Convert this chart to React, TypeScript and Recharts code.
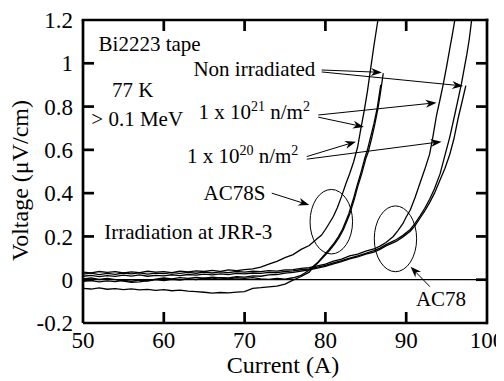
import React from 'react';
import { LineChart, Line, XAxis, YAxis, ReferenceLine, ReferenceArea, ReferenceDot, Label } from 'recharts';

const FONT = "'Liberation Serif', 'Times New Roman', Times, serif";

// Axis ticks
const xTicks = [50, 60, 70, 80, 90, 100];
const xInnerTicks = [60, 70, 80, 90];
const yTicks = [-0.2, 0, 0.2, 0.4, 0.6, 0.8, 1, 1.2];
const yInnerTicks = [0, 0.2, 0.4, 0.6, 0.8, 1];
const X_DOMAIN: [number, number] = [50, 100];
const Y_DOMAIN: [number, number] = [-0.2, 1.2];
// two interior reference points used to map the frame through the chart scales
const FRAME_REF_X: [number, number] = [60, 90];
const FRAME_REF_Y: [number, number] = [0.2, 1];

// AC78S tape curves [current (A), voltage (uV/cm)]
const ac78s21: [number, number][] = [
  [50, 0.035], [51, 0.032], [52, 0.038], [53, 0.034], [54, 0.037], [55, 0.031], [56, 0.036], [57, 0.033],
  [58, 0.039], [59, 0.035], [60, 0.037], [61, 0.033], [62, 0.04], [63, 0.036], [64, 0.041], [65, 0.038],
  [66, 0.043], [67, 0.039], [68, 0.045], [69, 0.042], [70, 0.047], [71, 0.05], [72, 0.058], [73, 0.072],
  [74, 0.085], [75, 0.102], [76, 0.116], [77, 0.14], [78, 0.158], [79, 0.19], [79.5, 0.205], [80, 0.232],
  [80.5, 0.262], [81, 0.293], [81.5, 0.335], [82, 0.385], [82.5, 0.44], [83, 0.49], [83.5, 0.545],
  [84, 0.615], [84.4, 0.7], [84.8, 0.78], [85.2, 0.87], [85.6, 0.975], [86, 1.08], [86.5, 1.2],
];
const ac78s20: [number, number][] = [
  [50, 0.004], [51, 0.008], [52, 0.001], [53, 0.006], [54, 0.0], [55, -0.006], [56, -0.012], [57, -0.01],
  [58, -0.004], [59, 0.003], [60, 0.008], [61, 0.004], [62, 0.01], [63, 0.006], [64, 0.011], [65, 0.007],
  [66, 0.012], [67, 0.008], [68, 0.004], [69, 0.009], [70, 0.006], [71, 0.01], [72, 0.004], [73, 0.002],
  [74, 0.006], [75, 0.003], [76, 0.009], [77, 0.02], [77.5, 0.032], [78, 0.045], [78.5, 0.062], [79, 0.078],
  [79.7, 0.108], [80.4, 0.138], [81.1, 0.17], [81.6, 0.198], [82.1, 0.232], [82.5, 0.268], [82.9, 0.305],
  [83.5, 0.378], [83.9, 0.432], [84.4, 0.495], [84.9, 0.565], [85.2, 0.6], [85.6, 0.66], [86, 0.72],
  [86.4, 0.79], [86.85, 0.9],
];
const ac78sNon: [number, number][] = [
  [50, -0.04], [51, -0.043], [52, -0.038], [53, -0.044], [54, -0.041], [55, -0.046], [56, -0.042], [57, -0.047],
  [58, -0.045], [59, -0.049], [60, -0.046], [61, -0.051], [62, -0.048], [63, -0.053], [64, -0.055], [65, -0.058],
  [66, -0.062], [67, -0.059], [68, -0.061], [69, -0.057], [70, -0.055], [71, -0.04], [72, -0.037], [73, -0.033],
  [74, -0.03], [75, -0.02], [76, -0.002], [77, 0.015], [78, 0.035], [78.5, 0.058], [79, 0.075], [79.75, 0.105],
  [80.5, 0.135], [81.2, 0.168], [81.7, 0.195], [82.2, 0.23], [82.6, 0.265], [83, 0.302], [83.6, 0.375],
  [84, 0.43], [84.5, 0.49], [85, 0.56], [85.3, 0.59], [85.7, 0.65], [86.1, 0.715], [86.5, 0.79], [86.8, 0.86],
  [87.16, 0.954],
];

// AC78 tape curves
const ac7821: [number, number][] = [
  [50, 0.026], [51, 0.03], [52, 0.024], [53, 0.029], [54, 0.025], [55, 0.031], [56, 0.027], [57, 0.032],
  [58, 0.026], [59, 0.03], [60, 0.028], [61, 0.033], [62, 0.029], [63, 0.034], [64, 0.03], [65, 0.035],
  [66, 0.031], [67, 0.036], [68, 0.033], [69, 0.038], [70, 0.035], [71, 0.039], [72, 0.037], [73, 0.042],
  [74, 0.04], [75, 0.045], [76, 0.047], [77, 0.052], [78, 0.056], [79, 0.064], [80, 0.072], [81, 0.086],
  [82, 0.095], [83, 0.11], [84, 0.118], [85, 0.132], [86, 0.142], [86.75, 0.155], [87.5, 0.172], [88.4, 0.2],
  [89, 0.228], [89.6, 0.26], [90, 0.29], [90.5, 0.322], [91.1, 0.38], [91.7, 0.446], [92.3, 0.51],
  [92.9, 0.58], [93.3, 0.66], [93.76, 0.761], [94.2, 0.835], [94.57, 0.9], [95, 0.985], [95.4, 1.069],
  [95.7, 1.13], [96.02, 1.2],
];
const ac7820: [number, number][] = [
  [50, 0.016], [51, 0.02], [52, 0.014], [53, 0.019], [54, 0.015], [55, 0.021], [56, 0.017], [57, 0.022],
  [58, 0.016], [59, 0.02], [60, 0.018], [61, 0.023], [62, 0.019], [63, 0.024], [64, 0.021], [65, 0.026],
  [66, 0.022], [67, 0.027], [68, 0.024], [69, 0.029], [70, 0.027], [71, 0.031], [72, 0.029], [73, 0.034],
  [74, 0.033], [75, 0.038], [76, 0.041], [77, 0.046], [78, 0.05], [79, 0.058], [80, 0.066], [81, 0.078],
  [82, 0.088], [83, 0.1], [84, 0.11], [85, 0.122], [86, 0.134], [86.75, 0.146], [87.5, 0.162], [88.2, 0.175],
  [88.8, 0.186], [89.6, 0.205], [90.5, 0.232], [91.1, 0.26], [91.7, 0.294], [92.3, 0.33], [92.9, 0.372],
  [93.5, 0.42], [94.2, 0.49], [94.8, 0.576], [95.4, 0.66], [96, 0.761], [96.4, 0.83], [96.85, 0.908],
  [97.2, 0.98], [97.5, 1.04], [97.8, 1.11], [98.1, 1.2],
];
const ac78Non: [number, number][] = [
  [50, -0.008], [51, -0.004], [52, -0.01], [53, -0.005], [54, -0.009], [55, -0.003], [56, -0.007], [57, -0.002],
  [58, -0.006], [59, 0.0], [60, -0.004], [61, 0.002], [62, -0.002], [63, 0.004], [64, 0.001], [65, 0.007],
  [66, 0.004], [67, 0.01], [68, 0.008], [69, 0.014], [70, 0.012], [71, 0.018], [72, 0.016], [73, 0.022],
  [74, 0.024], [75, 0.03], [76, 0.034], [77, 0.04], [78, 0.046], [79, 0.054], [80, 0.062], [81, 0.073],
  [82, 0.084], [83, 0.096], [84, 0.105], [85, 0.118], [86, 0.128], [86.75, 0.14], [87.5, 0.156], [88.2, 0.168],
  [88.8, 0.178], [89.6, 0.198], [90.5, 0.224], [91.1, 0.25], [91.7, 0.284], [92.3, 0.318], [92.9, 0.356],
  [93.5, 0.4], [94.2, 0.462], [94.8, 0.515], [95.4, 0.58], [95.9, 0.65], [96.43, 0.746], [96.9, 0.82],
  [97.38, 0.897],
];

const curves = [ac78s21, ac78s20, ac78sNon, ac7821, ac7820, ac78Non];

// Annotations (data coordinates)
const arrowSegments: [number, number, number, number][] = [
  [79.54, 0.969, 87.0, 0.958],
  [79.54, 0.96, 97.05, 0.895],
  [79.12, 0.751, 84.77, 0.706],
  [79.12, 0.761, 93.76, 0.818],
  [77.69, 0.569, 83.78, 0.638],
  [77.69, 0.557, 94.38, 0.638],
  [73.36, 0.4, 78.01, 0.345],
  [92.93, -0.032, 90.54, 0.06],
];
const ellipses: [number, number, number, number][] = [
  [78.1, 83.36, 0.119, 0.417],
  [86.05, 91.29, 0.037, 0.341],
];
const plainLabels: [string, number, number][] = [
  ['Bi2223 tape', 51.93, 1.058],
  ['Non irradiated', 63.67, 0.941],
  ['77 K', 53.58, 0.846],
  ['> 0.1 MeV', 51.03, 0.71],
  ['AC78S', 64.91, 0.369],
  ['Irradiation at JRR-3', 52.63, 0.187],
  ['AC78', 91.2, -0.121],
];
const fluenceLabels: [string, number, number][] = [
  ['21', 64.29, 0.741],
  ['20', 62.86, 0.539],
];

const toPts = (arr: [number, number][]) => arr.map(([x, y]) => ({ x, y }));

const TICK_LEN = 11;
const AXIS_W = 2.7;

const ArrowShape = (props: any) => {
  const { x1, y1, x2, y2 } = props;
  const a = Math.atan2(y2 - y1, x2 - x1);
  const c = Math.cos(a);
  const s = Math.sin(a);
  const L = 11;
  const W = 4;
  const bx = x2 - L * c;
  const by = y2 - L * s;
  const nx = x2 - 0.7 * L * c;
  const ny = y2 - 0.7 * L * s;
  const pts = `${x2},${y2} ${bx - W * s},${by + W * c} ${nx},${ny} ${bx + W * s},${by - W * c}`;
  return (
    <g>
      <line x1={x1} y1={y1} x2={nx} y2={ny} stroke="black" strokeWidth={1} />
      <polygon points={pts} fill="black" />
    </g>
  );
};

// Frame (top/right edges) and inward ticks on all sides, mapped linearly from two scaled interior points
const FrameShape = (props: any) => {
  const { x1, y1, x2, y2 } = props;
  const px = (v: number) => x1 + ((v - FRAME_REF_X[0]) * (x2 - x1)) / (FRAME_REF_X[1] - FRAME_REF_X[0]);
  const py = (v: number) => y1 + ((v - FRAME_REF_Y[0]) * (y2 - y1)) / (FRAME_REF_Y[1] - FRAME_REF_Y[0]);
  const L = px(X_DOMAIN[0]);
  const R = px(X_DOMAIN[1]);
  const B = py(Y_DOMAIN[0]);
  const T = py(Y_DOMAIN[1]);
  const st = { stroke: 'black', strokeWidth: AXIS_W };
  return (
    <g>
      <line x1={L} y1={T} x2={R} y2={T} {...st} strokeLinecap="square" />
      <line x1={R} y1={T} x2={R} y2={B} {...st} strokeLinecap="square" />
      {xInnerTicks.map((t) => (
        <g key={'xt' + t}>
          <line x1={px(t)} y1={B} x2={px(t)} y2={B - TICK_LEN} {...st} />
          <line x1={px(t)} y1={T} x2={px(t)} y2={T + TICK_LEN} {...st} />
        </g>
      ))}
      {yInnerTicks.map((t) => (
        <g key={'yt' + t}>
          <line x1={L} y1={py(t)} x2={L + TICK_LEN} y2={py(t)} {...st} />
          <line x1={R} y1={py(t)} x2={R - TICK_LEN} y2={py(t)} {...st} />
        </g>
      ))}
    </g>
  );
};

const EllipseShape = (props: any) => {
  const { x, y, width, height } = props;
  return (
    <ellipse cx={x + width / 2} cy={y + height / 2} rx={Math.abs(width) / 2} ry={Math.abs(height) / 2}
      fill="none" stroke="black" strokeWidth={1} />
  );
};

const textStyle = { fontFamily: FONT, fontSize: 21, fill: 'black' };

export default function App() {
  return (
    <LineChart width={496} height={373} margin={{ top: 12, right: 17, bottom: 8, left: 15 }}>
      <XAxis dataKey="x" type="number" domain={X_DOMAIN} ticks={xTicks} interval={0}
        allowDataOverflow height={50} tickSize={0} tickMargin={9} tickLine={false}
        axisLine={{ stroke: 'black', strokeWidth: AXIS_W }}
        tick={{ fill: 'black', fontSize: 23, fontFamily: FONT }}
        label={<Label content={(p: any) => {
          const vb = p.viewBox;
          return (
            <text x={vb.x + vb.width / 2 - 2} y={vb.y + 50} textAnchor="middle"
              fontFamily={FONT} fontSize={24} fill="black">Current (A)</text>
          );
        }} />}
      />
      <YAxis type="number" domain={Y_DOMAIN} ticks={yTicks} interval={0} allowDataOverflow width={60}
        tickSize={0} tickMargin={10} tickLine={false}
        axisLine={{ stroke: 'black', strokeWidth: AXIS_W }}
        tick={{ fill: 'black', fontSize: 23, fontFamily: FONT }}
        tickFormatter={(v: number) => String(v)}
        label={<Label content={(p: any) => {
          const vb = p.viewBox;
          const cx = vb.x + 5;
          const cy = vb.y + vb.height / 2 + 9;
          return (
            <text x={cx} y={cy} transform={`rotate(-90, ${cx}, ${cy})`} textAnchor="middle"
              fontFamily={FONT} fontSize={24} fill="black">Voltage (μV/cm)</text>
          );
        }} />}
      />

      <ReferenceLine y={0} stroke="black" strokeWidth={1.2} />

      {curves.map((c, i) => (
        <Line key={'c' + i} data={toPts(c)} dataKey="y" type="linear" stroke="black" strokeWidth={1.3}
          dot={false} isAnimationActive={false} />
      ))}

      {ellipses.map(([x1, x2, y1, y2], i) => (
        <ReferenceArea key={'e' + i} x1={x1} x2={x2} y1={y1} y2={y2} shape={<EllipseShape />} />
      ))}

      <ReferenceLine
        segment={[{ x: FRAME_REF_X[0], y: FRAME_REF_Y[0] }, { x: FRAME_REF_X[1], y: FRAME_REF_Y[1] }]}
        shape={<FrameShape />} />

      {arrowSegments.map(([ax, ay, bx, by], i) => (
        <ReferenceLine key={'a' + i} segment={[{ x: ax, y: ay }, { x: bx, y: by }]} shape={<ArrowShape />} />
      ))}

      {plainLabels.map(([t, x, y], i) => (
        <ReferenceDot key={'t' + i} x={x} y={y} r={0}
          shape={(p: any) => <text x={p.cx} y={p.cy} {...textStyle}>{t}</text>} />
      ))}

      {fluenceLabels.map(([exp, x, y], i) => (
        <ReferenceDot key={'f' + i} x={x} y={y} r={0}
          shape={(p: any) => (
            <text x={p.cx} y={p.cy} {...textStyle}>
              <tspan>1 x 10</tspan>
              <tspan fontSize={14} dy={-8}>{exp}</tspan>
              <tspan dy={8}> n/m</tspan>
              <tspan fontSize={14} dy={-8}>2</tspan>
            </text>
          )} />
      ))}
    </LineChart>
  );
}
